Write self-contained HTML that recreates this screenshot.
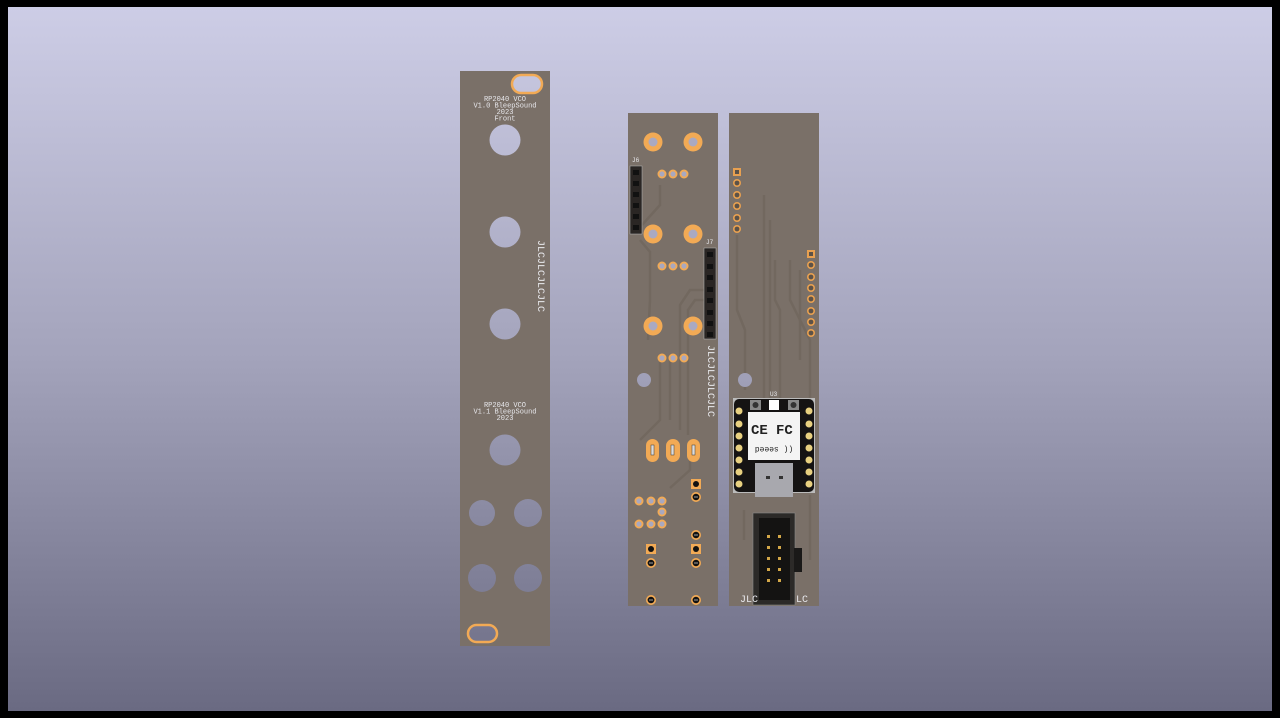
<!DOCTYPE html>
<html><head><meta charset="utf-8"><style>
html,body{margin:0;padding:0;background:#000;}
svg{display:block}
text{font-family:"Liberation Mono","DejaVu Sans Mono",monospace;fill:#e8e8ec}
</style></head><body>
<svg width="1280" height="718" viewBox="0 0 1280 718" xmlns="http://www.w3.org/2000/svg">
<defs>
<linearGradient id="bg" gradientUnits="userSpaceOnUse" x1="0" y1="7" x2="0" y2="711">
<stop offset="0" stop-color="#cdcde6"/><stop offset="0.5" stop-color="#a3a3bb"/><stop offset="1" stop-color="#6a6a82"/>
</linearGradient>
<g id="pad"><circle r="4.5" fill="#f2aa55"/><circle r="2.6" fill="#a8a8c0"/></g>
<g id="bpad"><circle r="9.5" fill="#f2aa55"/><circle r="4.5" fill="#a9a9c2"/></g>
<g id="thp"><circle r="5" fill="#f2aa55"/><ellipse rx="3.4" ry="3.2" fill="#111"/><rect x="-2" y="-0.6" width="4" height="1.2" fill="#888"/></g>
<g id="sqp"><rect x="-5" y="-5" width="10" height="10" fill="#f2aa55"/><circle r="3" fill="#111"/></g>
<g id="rp"><circle r="4" fill="#e8a050"/><circle r="2.4" fill="#5c5248"/></g>
</defs>
<rect width="1280" height="718" fill="#000"/>
<rect x="8" y="7" width="1264" height="704" fill="url(#bg)"/>

<!-- left panel -->
<rect x="460" y="71" width="90" height="575" fill="#7a7068"/>
<rect x="512" y="75" width="30" height="18" rx="9" fill="url(#bg)" stroke="#f2aa55" stroke-width="2.5"/>
<rect x="468" y="625" width="29" height="17" rx="8.5" fill="url(#bg)" stroke="#f2aa55" stroke-width="2.5"/>
<g fill="url(#bg)">
<circle cx="505" cy="140" r="15.5"/><circle cx="505" cy="232" r="15.5"/><circle cx="505" cy="324" r="15.5"/><circle cx="505" cy="450" r="15.5"/>
<circle cx="482" cy="513" r="13"/><circle cx="528" cy="513" r="14"/><circle cx="482" cy="578" r="14"/><circle cx="528" cy="578" r="14"/>
</g>
<g font-size="7" text-anchor="middle">
<text x="505" y="101">RP2040 VCO</text><text x="505" y="107.5">V1.0 BleepSound</text><text x="505" y="114">2023</text><text x="505" y="120.5">Front</text>
<text x="505" y="407">RP2040 VCO</text><text x="505" y="413.5">V1.1 BleepSound</text><text x="505" y="420">2023</text>
</g>
<text font-size="10" transform="translate(538,276) rotate(90)" text-anchor="middle" font-family="Liberation Sans,sans-serif">JLCJLCJLCJLC</text>

<!-- middle board -->
<rect x="628" y="113" width="90" height="493" fill="#7a7068"/>
<g stroke="#72685f" stroke-width="2.5" fill="none">
<path d="M642 225 L660 205 L660 185"/><path d="M640 240 L650 252 L650 300 L648 340"/>
<path d="M705 290 L690 290 L680 305 L680 430"/><path d="M705 300 L695 300 L688 310 L688 435"/>
<path d="M660 360 L660 420 L640 440"/><path d="M670 360 L670 420"/>
<path d="M690 460 L690 470 L670 488"/>
</g>
<use href="#bpad" x="653" y="142"/><use href="#bpad" x="693" y="142"/>
<use href="#bpad" x="653" y="234"/><use href="#bpad" x="693" y="234"/>
<use href="#bpad" x="653" y="326"/><use href="#bpad" x="693" y="326"/>
<use href="#pad" x="662" y="174"/><use href="#pad" x="673" y="174"/><use href="#pad" x="684" y="174"/>
<use href="#pad" x="662" y="266"/><use href="#pad" x="673" y="266"/><use href="#pad" x="684" y="266"/>
<use href="#pad" x="662" y="358"/><use href="#pad" x="673" y="358"/><use href="#pad" x="684" y="358"/>
<rect x="630" y="166" width="12" height="68" fill="#2a2624" stroke="#bbb" stroke-width="0.5"/>
<g fill="#111"><rect x="633" y="170" width="6" height="5"/><rect x="633" y="181" width="6" height="5"/><rect x="633" y="192" width="6" height="5"/><rect x="633" y="203" width="6" height="5"/><rect x="633" y="214" width="6" height="5"/><rect x="633" y="225" width="6" height="5"/></g>
<text x="632" y="162" font-size="6">J6</text>
<rect x="704" y="248" width="12" height="91" fill="#2a2624" stroke="#bbb" stroke-width="0.5"/>
<g fill="#111"><rect x="707" y="252" width="6" height="5"/><rect x="707" y="264" width="6" height="5"/><rect x="707" y="275" width="6" height="5"/><rect x="707" y="287" width="6" height="5"/><rect x="707" y="298" width="6" height="5"/><rect x="707" y="310" width="6" height="5"/><rect x="707" y="321" width="6" height="5"/><rect x="707" y="332" width="6" height="5"/></g>
<text x="706" y="244" font-size="6">J7</text>
<text font-size="10" transform="translate(708,381) rotate(90)" text-anchor="middle" font-family="Liberation Sans,sans-serif">JLCJLCJLCJLC</text>
<circle cx="644" cy="380" r="7" fill="url(#bg)"/>
<g fill="#f2aa55"><rect x="646" y="439" width="13" height="23" rx="6.5"/><rect x="666" y="439" width="14" height="23" rx="7"/><rect x="687" y="439" width="13" height="23" rx="6.5"/></g>
<g fill="#dcdcdc" stroke="#333" stroke-width="0.5"><rect x="651" y="445" width="3" height="10"/><rect x="671" y="445" width="3" height="10"/><rect x="692" y="445" width="3" height="10"/></g>
<use href="#sqp" x="696" y="484"/><use href="#thp" x="696" y="497"/><use href="#thp" x="696" y="535"/>
<use href="#sqp" x="651" y="549"/><use href="#sqp" x="696" y="549"/><use href="#thp" x="651" y="563"/><use href="#thp" x="696" y="563"/>
<use href="#thp" x="651" y="600"/><use href="#thp" x="696" y="600"/>
<use href="#pad" x="639" y="501"/><use href="#pad" x="651" y="501"/><use href="#pad" x="662" y="501"/><use href="#pad" x="662" y="512"/>
<use href="#pad" x="639" y="524"/><use href="#pad" x="651" y="524"/><use href="#pad" x="662" y="524"/>

<!-- right board -->
<rect x="729" y="113" width="90" height="493" fill="#7a7068"/>
<g stroke="#72685f" stroke-width="2.5" fill="none">
<path d="M764 195 L764 400"/><path d="M770 220 L770 400"/><path d="M775 260 L775 300 L780 310 L780 400"/>
<path d="M737 235 L737 310 L745 330 L745 390"/><path d="M790 260 L790 300 L810 340 L810 400"/>
<path d="M800 270 L800 360"/><path d="M744 510 L744 540"/><path d="M810 495 L810 560"/>
</g>
<use href="#rp" x="737" y="172"/><use href="#rp" x="737" y="183"/><use href="#rp" x="737" y="195"/><use href="#rp" x="737" y="206"/><use href="#rp" x="737" y="218"/><use href="#rp" x="737" y="229"/>
<rect x="733" y="168" width="8" height="8" fill="#e8a050"/><rect x="735" y="170" width="4" height="4" fill="#5c5248"/>
<rect x="807" y="250" width="8" height="8" fill="#e8a050"/><rect x="809" y="252" width="4" height="4" fill="#5c5248"/>
<use href="#rp" x="811" y="265"/><use href="#rp" x="811" y="277"/><use href="#rp" x="811" y="288"/><use href="#rp" x="811" y="299"/><use href="#rp" x="811" y="311"/><use href="#rp" x="811" y="322"/><use href="#rp" x="811" y="333"/>
<circle cx="745" cy="380" r="7" fill="url(#bg)"/>
<text x="770" y="396" font-size="6">U3</text>
<rect x="733" y="398" width="82" height="95" fill="#bbb" />
<rect x="734" y="399" width="80" height="93" rx="5" fill="#151313"/>
<g fill="#e8d080"><circle cx="739" cy="411" r="3.5"/><circle cx="739" cy="424" r="3.5"/><circle cx="739" cy="436" r="3.5"/><circle cx="739" cy="448" r="3.5"/><circle cx="739" cy="460" r="3.5"/><circle cx="739" cy="472" r="3.5"/><circle cx="739" cy="484" r="3.5"/>
<circle cx="809" cy="411" r="3.5"/><circle cx="809" cy="424" r="3.5"/><circle cx="809" cy="436" r="3.5"/><circle cx="809" cy="448" r="3.5"/><circle cx="809" cy="460" r="3.5"/><circle cx="809" cy="472" r="3.5"/><circle cx="809" cy="484" r="3.5"/></g>
<rect x="750" y="400" width="11" height="10" fill="#888"/><circle cx="755.5" cy="405" r="3" fill="#333"/>
<rect x="788" y="400" width="11" height="10" fill="#888"/><circle cx="793.5" cy="405" r="3" fill="#333"/>
<rect x="769" y="400" width="10" height="10" fill="#fff"/>
<rect x="748" y="412" width="52" height="48" fill="#f4f4f4"/>
<text x="751" y="434" font-size="14" font-weight="bold" style="fill:#222" font-family="Liberation Sans,sans-serif">CE</text>
<text x="776" y="434" font-size="14" font-weight="bold" style="fill:#222" font-family="Liberation Sans,sans-serif">FC</text>
<text x="774" y="453" font-size="8" style="fill:#222" text-anchor="middle" transform="rotate(180 774 450)">(( seeed</text>
<rect x="755" y="463" width="38" height="34" fill="#a8a8ae"/>
<rect x="766" y="476" width="4" height="3" fill="#333"/><rect x="779" y="476" width="4" height="3" fill="#333"/>
<rect x="753" y="513" width="42" height="92" fill="#2c2a28" stroke="#888" stroke-width="0.6"/>
<rect x="759" y="518" width="31" height="82" fill="#141312"/>
<rect x="794" y="548" width="8" height="24" fill="#1a1918"/>
<g fill="#d4a848"><rect x="767" y="535" width="3" height="3"/><rect x="778" y="535" width="3" height="3"/><rect x="767" y="546" width="3" height="3"/><rect x="778" y="546" width="3" height="3"/><rect x="767" y="557" width="3" height="3"/><rect x="778" y="557" width="3" height="3"/><rect x="767" y="568" width="3" height="3"/><rect x="778" y="568" width="3" height="3"/><rect x="767" y="579" width="3" height="3"/><rect x="778" y="579" width="3" height="3"/></g>
<text x="740" y="602" font-size="10" font-family="Liberation Sans,sans-serif">JLC</text>
<text x="796" y="602" font-size="10" font-family="Liberation Sans,sans-serif">LC</text>
</svg>
</body></html>
